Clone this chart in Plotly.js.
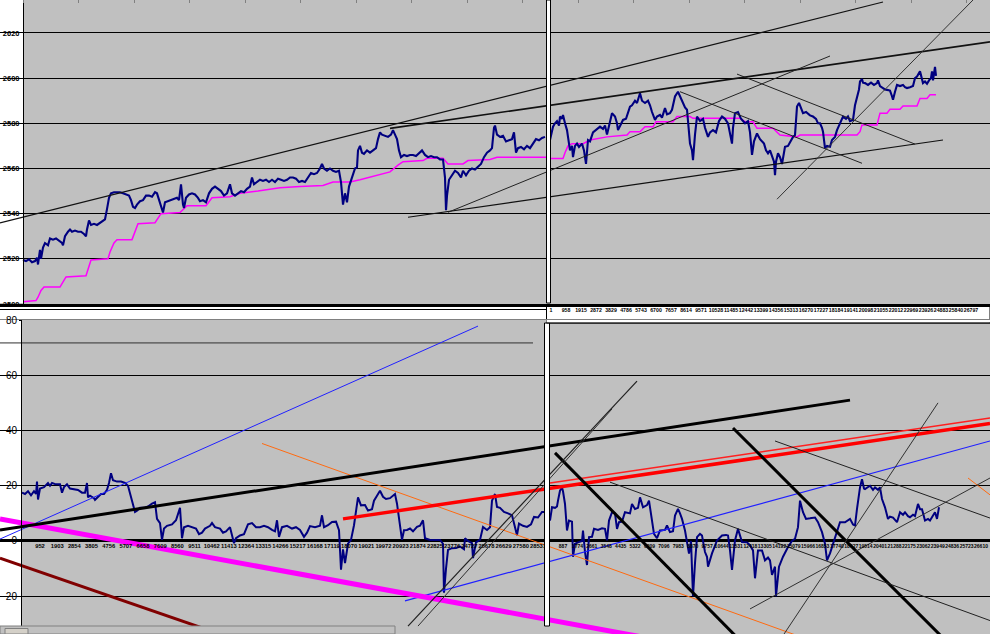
<!DOCTYPE html>
<html><head><meta charset="utf-8">
<script src="https://cdn.plot.ly/plotly-3.0.1.min.js"></script>
<style>html,body{margin:0;padding:0;background:#fff;overflow:hidden}</style>
</head><body>
<div id="chart" style="width:990px;height:634px"></div>
<script>
// ---------------- DATA ----------------
// Upper chart (price) – left window: [bar, price]
const priceLeft = [[23,2519.5],[26,2519],[29,2519.8],[32,2518.5],[35,2519],[37,2520.5],[38,2517.5],[39,2521],[40,2524],[41,2520],[43,2525],[45,2527],[48,2526],[50,2529],[53,2528.5],[56,2529],[59,2528],[62,2527],[63,2526],[65,2530],[68,2532],[70,2533],[72,2532],[75,2532.5],[78,2532],[81,2532],[84,2531],[86,2530],[87,2533],[89,2537],[91,2535],[94,2535.5],[97,2535],[100,2536],[103,2537],[105,2537.5],[107,2542],[109,2547],[111,2549],[114,2549.5],[117,2549.5],[120,2549.5],[123,2549],[126,2548.5],[129,2548],[131,2546],[133,2543],[135,2542.5],[137,2544],[140,2545.5],[143,2546],[146,2548],[149,2548],[152,2547.5],[155,2549.5],[157,2549],[159,2546],[161,2544],[163,2540.5],[165,2545],[168,2545.5],[171,2546],[174,2546.5],[177,2547],[179,2546],[181,2553],[183,2544],[184,2542.5],[186,2547],[189,2548.5],[192,2549],[195,2548.5],[198,2547],[200,2545.5],[203,2546],[206,2545],[209,2549],[212,2551],[215,2552],[218,2551],[221,2550],[224,2548],[227,2549],[230,2553],[232,2549],[235,2548],[238,2549],[241,2550],[244,2549.5],[247,2551],[250,2552],[252,2556],[254,2553],[257,2554],[260,2555],[263,2554.5],[266,2555],[269,2554],[272,2555],[275,2554],[278,2555.5],[281,2555],[284,2554.5],[287,2555],[290,2556],[293,2556],[296,2555.5],[299,2554],[302,2554.5],[305,2554],[308,2556],[311,2558],[314,2557.5],[317,2558],[320,2560],[322,2562],[324,2560],[327,2559],[330,2560],[333,2559],[336,2558.5],[339,2559],[341,2554],[342,2546],[343,2544],[345,2549],[347,2545],[349,2552],[351,2555],[353,2557],[355,2560],[357,2560.5],[358,2568],[360,2570],[362,2567],[364,2566.5],[367,2568],[370,2567],[373,2568],[376,2569],[378,2573],[380,2576],[382,2575],[385,2574.5],[388,2574],[391,2575],[393,2577],[395,2575],[397,2573],[399,2568],[401,2565],[404,2566],[407,2565.5],[410,2566],[413,2566],[416,2565.5],[419,2567],[422,2568],[425,2566],[428,2565],[431,2565.5],[434,2565],[437,2565],[440,2564],[443,2564],[445,2556],[446,2541.5],[447,2548],[449,2555],[452,2557],[455,2559],[458,2558],[461,2556],[463,2559],[466,2557],[469,2559],[472,2560],[475,2559.5],[478,2561],[481,2562],[484,2565],[487,2567],[490,2568],[492,2569],[494,2578],[495,2579],[497,2575],[500,2574],[503,2574.5],[506,2572],[509,2572.5],[512,2573],[514,2576],[516,2567],[518,2569],[521,2569.5],[524,2568.5],[527,2570],[530,2569],[533,2571],[536,2573],[539,2572.5],[542,2573.5],[545,2574]];
const avgLeft = [[23,2501],[36,2501.5],[38,2503],[41,2506],[44,2507.5],[60,2507.5],[62,2509],[66,2512],[86,2512.5],[88,2515],[91,2519.5],[108,2520],[110,2523],[114,2527],[117,2528.5],[132,2528.5],[135,2532],[138,2535.5],[155,2536],[158,2538],[161,2540],[180,2540.5],[183,2542],[187,2543.5],[206,2543.5],[210,2546],[212,2547],[230,2547.5],[240,2549],[258,2550],[280,2551.5],[300,2552],[323,2552.5],[333,2554],[350,2554],[360,2555],[377,2557],[390,2558.5],[398,2561.5],[403,2563],[423,2563.5],[427,2564.5],[443,2564.5],[448,2562],[463,2562],[468,2563.5],[490,2564],[497,2565],[546,2565]];
// Upper chart – right window
const priceRight = [[550,2572.6],[552,2576],[553,2578.5],[555,2580],[557,2581],[559,2579],[560,2583],[562,2582],[563,2583.7],[565,2580],[567,2577],[568,2574],[570,2568],[572,2570],[573,2565],[575,2570],[577,2571],[579,2569.5],[582,2571],[584,2568],[586,2562],[588,2572.6],[590,2572],[593,2576],[596,2577],[600,2578.5],[603,2577.5],[605,2579],[607,2575],[609,2579],[612,2584.5],[615,2583],[617,2580],[618,2577],[620,2579],[623,2581.5],[626,2582],[628,2585],[630,2587.4],[632,2588],[635,2590],[637,2589],[640,2593.3],[642,2590],[645,2589],[648,2590],[650,2588],[652,2585],[655,2581.5],[657,2583],[660,2583.7],[662,2582.5],[665,2586.7],[667,2584],[670,2584.5],[672,2586],[675,2591.9],[678,2594],[680,2592],[682,2590],[685,2587],[687,2586],[688,2580],[690,2571],[692,2568],[693,2563.7],[695,2575],[697,2583],[700,2581],[703,2582],[705,2578],[708,2574],[710,2576],[713,2577],[716,2576],[719,2581],[722,2583],[725,2582],[728,2580],[730,2576],[732,2571],[733,2578],[735,2584.5],[738,2585],[741,2582],[745,2580],[748,2581],[750,2576],[752,2566],[754,2572],[757,2575.5],[760,2573],[764,2571],[766,2568],[768,2566.7],[770,2568],[772,2565],[774,2563],[775,2557],[776,2563],[778,2566.7],[780,2565],[782,2562],[785,2569.6],[788,2570],[791,2572.6],[793,2574],[795,2574.8],[796,2580],[797,2587.4],[799,2589],[801,2587],[803,2584.5],[806,2585],[810,2583.5],[813,2583],[816,2582],[818,2580],[820,2580],[822,2578],[823,2576.3],[825,2569],[827,2570],[830,2569.6],[832,2572.6],[835,2574],[837,2577],[840,2580],[843,2583],[846,2582],[848,2583],[850,2581],[853,2581.5],[855,2588],[857,2591.9],[859,2595],[860,2598.5],[862,2599.6],[863,2598],[865,2597.8],[868,2597],[871,2598],[874,2597],[877,2597.8],[878,2599],[880,2596.5],[883,2595.6],[885,2595],[887,2594.8],[890,2594.5],[892,2592],[893,2590.4],[895,2594],[897,2597],[900,2596.5],[903,2597],[905,2596],[907,2595.6],[910,2596],[913,2596.5],[915,2600],[917,2600.7],[920,2603],[922,2600],[923,2597.8],[925,2598.5],[927,2597.5],[929,2599],[931,2600],[932,2603],[933,2599],[935,2605],[936,2601]];
const avgRight = [[550,2564.4],[563,2564.4],[565,2567],[568,2570],[572,2571],[583,2571],[590,2572.6],[600,2573.5],[607,2574],[627,2574.8],[630,2576.3],[640,2576.3],[645,2578.5],[653,2578.5],[656,2580.7],[673,2580.7],[677,2583],[690,2583],[693,2582.2],[740,2582.2],[745,2580.7],[753,2580.7],[757,2577.8],[773,2577.8],[780,2574.8],[797,2574],[800,2574.8],[857,2574.8],[860,2576.3],[862,2579.3],[877,2579.3],[880,2584.5],[887,2584.5],[890,2586.2],[900,2586.2],[903,2587.7],[917,2587.7],[920,2591],[927,2591],[930,2592.6],[936,2592.6]];
// Lower chart (oscillator)
const oscLeft = [[22,17.5],[25,17],[28,18],[31,16.5],[34,18],[36,17],[37,21.5],[38,15],[40,19],[44,19.5],[48,21],[50,20],[52,21],[56,20.5],[60,20.5],[62,17.5],[64,19.5],[67,20.5],[70,19],[74,18.8],[78,18.5],[82,17.5],[85,17.5],[87,21],[88,15.8],[90,16.4],[94,15.5],[95,14.9],[98,16],[101,17],[104,17],[107,18.5],[109,21],[111,24.5],[113,22],[117,21.5],[121,21.5],[125,21],[128,20],[131,16],[133,13],[135,10.5],[137,11],[140,12],[144,12],[148,12.5],[152,13.5],[155,14],[157,8],[160,6.5],[162,0.4],[164,4.5],[167,5.5],[172,6],[176,7.5],[180,12],[182,1],[184,5],[188,5.5],[192,5],[196,4.5],[199,2.5],[202,3],[205,4.5],[210,5.5],[212,6.5],[215,5],[220,4.5],[223,3],[226,3.5],[230,5],[234,-0.8],[236,1],[240,2],[244,2.5],[248,6],[252,6.5],[256,5],[260,5],[264,5.5],[268,5],[272,4],[275,3.5],[277,7.5],[279,1.5],[282,5],[287,5.5],[292,4.5],[296,5],[300,4],[302,2.7],[304,1.5],[307,3],[310,5.4],[315,5],[320,5.5],[322,9.3],[324,5],[328,5.7],[332,6.9],[336,7],[339,3.9],[341,-10.4],[343,-3],[345,-8],[348,-1],[351,0.4],[354,5.7],[358,15.8],[361,12.9],[365,13],[368,11],[372,11.5],[374,14.6],[377,16.4],[380,18.2],[383,16],[386,15.2],[390,15.5],[393,16.5],[395,17],[397,13.5],[399,8.7],[402,0.4],[404,3.9],[407,4],[410,4.5],[413,3.5],[417,5.1],[420,5.5],[423,7.5],[425,1],[430,0.4],[435,0.5],[440,0.4],[443,-1],[444,-18.7],[446,-10],[448,-3.2],[452,-2.6],[456,-2.5],[460,-2],[464,-3],[465,1],[468,0],[472,-0.8],[473,-6.2],[476,-0.5],[480,0.4],[483,5.1],[487,4],[490,5],[492,14.6],[495,17],[497,12.3],[500,12],[504,10.5],[508,10],[512,9.3],[517,2.1],[519,6.3],[523,5.5],[527,5.1],[531,6],[534,8.7],[538,8.5],[542,10.5],[544,10.5]];
const oscRight = [[550,7.4],[552,12.2],[555,12],[557,12.5],[558,14.6],[560,18.2],[562,19.4],[563,18],[565,13.4],[567,3.8],[569,7.4],[572,7],[573,-5.7],[575,-1],[578,-0.5],[582,0],[583,3.8],[585,-4],[587,-8.7],[589,1.4],[592,1.5],[594,4.4],[598,4],[602,4.6],[605,4.4],[607,0.2],[609,7.4],[612,10.4],[615,10],[617,4.4],[619,6.8],[622,7],[625,10.4],[630,10],[632,13.4],[635,11.6],[638,12],[640,15.8],[643,12.2],[647,13],[649,14.6],[652,7.4],[654,2.6],[657,1],[660,3.8],[665,4],[667,5.6],[670,3.2],[673,3.5],[675,9.2],[678,11.6],[680,10],[682,8],[685,3.8],[689,-4.6],[691,0],[693,-20],[695,-8],[697,1.4],[700,2.6],[702,2],[705,-4],[707,-5.7],[708,-9.3],[712,-4.5],[717,0.2],[720,1.5],[722,2],[726,2.2],[728,2],[730,-3.4],[732,-10.5],[735,0.2],[738,4.4],[742,-0.4],[747,-0.5],[750,-1.5],[753,-3.4],[755,-13.5],[758,-3.4],[762,-3.4],[765,-7],[768,-6],[770,-7],[772,-12.3],[775,-9.3],[776,-20],[779,-9.3],[783,-5.7],[788,-2.2],[792,0],[795,0.8],[798,5],[800,14.6],[803,10.4],[806,8],[810,8.2],[815,8.5],[818,6.8],[822,3.2],[825,-1],[827,-7],[830,-4.5],[833,-1],[835,1.4],[838,4],[840,6.8],[845,6.8],[850,8],[853,6],[855,5.6],[857,11.6],[859,17],[860,19.4],[862,22.4],[864,19],[865,18.8],[868,19.5],[870,20],[873,18.5],[875,19.4],[878,18.5],[880,19.4],[882,15.2],[885,12.2],[888,8],[890,8.8],[893,8.5],[897,6.8],[900,10.4],[903,9.5],[905,10.4],[908,9],[910,8.6],[913,9.5],[915,9],[918,13.4],[920,11.5],[922,11.5],[925,7.4],[928,8],[930,7.4],[933,9],[935,10.4],[937,8],[939,12.2]];

// Trend lines: [x0, x1] and [y0, y1]
const upperTrendX = [[0,883],[390,990],[408,943],[448,830],[680,862],[737,915],[777,973]];
const upperTrendY = [[2535.9,2633.7],[2577.8,2616.1],[2538.4,2572.6],[2540.6,2609.8],[2594.0,2562.3],[2601.8,2570.8],[2546.4,2634.6]];
const lowerTrendX = [[0,533],[0,478],[0,300],[262,800],[968,990],[405,990],[0,640],[343,990],[550,990],[0,850],[555,740],[733,945],[610,990],[775,990],[408,637],[418,612],[784,938],[750,990]];
const lowerTrendY = [[71.7,71.7],[0.7,77.8],[-6.2,-43.7],[35.3,-34.6],[22.8,16.7],[-21.7,36.2],[8.0,-34.6],[8.0,42.5],[21.0,44.5],[4.0,51.0],[31.9,-36],[40.9,-35.8],[21.3,-28.8],[36.2,8.3],[-30.8,57.9],[-30.8,47.8],[-33.7,50.0],[-24.6,22.8]];

// Tick labels
const upperYTicks = [2500,2520,2540,2560,2580,2600,2620];
const lowerYTicks = [-20,0,20,40,60,80];
const topRightTicks = ['1','958','1915','2872','3829','4786','5743','6700','7657','8614','9571','10528','11485','12442','13399','14356','15313','16270','17227','18184','19141','20098','21055','22012','22969','23926','24883','25840','26797','27754'];
const bottomLeftTicks = ['952','1903','2854','3805','4756','5707','6658','7609','8560','9511','10462','11413','12364','13315','14266','15217','16168','17119','18070','19021','19972','20923','21874','22825','23776','24727','25678','26629','27580','28531'];
const bottomRightTicks = ['887','1774','2661','3548','4435','5322','6209','7096','7983','8870','9757','10644','11531','12418','13305','14192','15079','15966','16853','17740','18627','19514','20401','21288','22175','23062','23949','24836','25723','26610'];

// ---------------- STYLES ----------------
const upperTrendStyle = [
  {color:'#111',width:1.2},{color:'#111',width:1.7},{color:'#111',width:1.2},{color:'#222',width:1},
  {color:'#222',width:1},{color:'#222',width:1},{color:'#333',width:1}];
const lowerTrendStyle = [
  {color:'#303030',width:1},{color:'#2020ff',width:1},{color:'#800000',width:3},{color:'#ff6a10',width:1},
  {color:'#ff6a10',width:1},{color:'#2020ff',width:1.2},{color:'#ff00ff',width:5},{color:'#ff0000',width:3.5},
  {color:'#ff2020',width:1.5},{color:'#000',width:3},{color:'#000',width:3},{color:'#000',width:3},
  {color:'#202020',width:1},{color:'#202020',width:1},{color:'#202020',width:1.2},{color:'#303030',width:1},
  {color:'#303030',width:1},{color:'#303030',width:1}];

const W = 990, H = 634;
const xs = a => a.map(p => p[0]);
const ys = a => a.map(p => p[1]);
const traces = [];
function series(arr, xa, ya, color, width){
  traces.push({x:xs(arr), y:ys(arr), xaxis:xa, yaxis:ya, type:'scatter', mode:'lines',
    line:{color:color, width:width}, hoverinfo:'skip', showlegend:false});
}
series(avgLeft,'x','y','#ff00ff',1.5);
series(avgRight,'x','y','#ff00ff',1.5);
series(priceLeft,'x','y','#000080',2.1);
series(priceRight,'x','y','#000080',2.1);
series(oscLeft,'x3','y3','#000080',2);
series(oscRight,'x3','y3','#000080',2);
upperTrendX.forEach((xx,i)=>traces.push({x:xx, y:upperTrendY[i], xaxis:'x', yaxis:'y', mode:'lines',
  line:upperTrendStyle[i], hoverinfo:'skip', showlegend:false}));
lowerTrendX.forEach((xx,i)=>traces.push({x:xx, y:lowerTrendY[i], xaxis:'x3', yaxis:'y3', mode:'lines',
  line:lowerTrendStyle[i], hoverinfo:'skip', showlegend:false}));

// tick label positions along the bar axis (first/last label location, even spacing)
const spread = (n, a, b) => Array.from({length:n}, (_, i) => a + (b - a) * i / (n - 1));
const topRightPos = spread(topRightTicks.length, 551, 986);
const bottomLeftPos = spread(bottomLeftTicks.length, 40, 538);
const bottomRightPos = spread(bottomRightTicks.length, 563, 981);
// invisible anchors so the label-only axes are rendered
traces.push({x:[0], y:[2500], xaxis:'x2', yaxis:'y', mode:'markers', marker:{opacity:0}, hoverinfo:'skip', showlegend:false});
traces.push({x:[0], y:[2500], xaxis:'x5', yaxis:'y', mode:'markers', marker:{opacity:0}, hoverinfo:'skip', showlegend:false});
traces.push({x:[0], y:[0], xaxis:'x4', yaxis:'y3', mode:'markers', marker:{opacity:0}, hoverinfo:'skip', showlegend:false});
traces.push({x:[0], y:[0], xaxis:'x6', yaxis:'y3', mode:'markers', marker:{opacity:0}, hoverinfo:'skip', showlegend:false});

function rect(x0,y0,x1,y1,fill,line,layer){
  return {type:'rect', xref:'paper', yref:'paper', x0:x0/W, x1:x1/W, y0:1-y1/H, y1:1-y0/H,
    fillcolor:fill, line: line ? {color:line, width:1} : {width:0}, layer: layer || 'above'};
}
function hline(x0,x1,y,color,w){
  return {type:'line', xref:'paper', yref:'paper', x0:x0/W, x1:x1/W, y0:1-y/H, y1:1-y/H, line:{color:color,width:w}};
}
const shapes = [
  rect(0,0,23,303,'#ffffff',null,'between'),
  rect(0,320,21,634,'#ffffff',null,'between'),
  rect(546.5,0,550.5,303,'#ffffff','#000000'),
  rect(544.5,323,549.5,626,'#ffffff','#000000'),
  hline(0,546,309.5,'#000000',1),
  rect(546.5,305.5,990,323,'#ffffff','#000000','below'),
  rect(546.5,320,990,322.5,'#ffffff',null),
  hline(546.5,990,323,'#000000',1),
  rect(0,626,395,634,'#c0c0c0','#808080'),
  rect(5,628.5,28,634,'#d4d0c8','#808080')
];

const small = {family:'Liberation Sans, Arial, sans-serif', color:'#000', weight:'bold'};
const labelAxis = (over, pos, vals, text, size) => ({overlaying:over, anchor:'free', position:pos,
  range:[0,990], tickmode:'array', tickvals:vals, ticktext:text, ticks:'', showline:false,
  showgrid:false, zeroline:false, tickangle:0, tickfont:Object.assign({size:size}, small), fixedrange:true});
const layout = {
  width:W, height:H, margin:{l:0,r:0,t:0,b:0,pad:0},
  paper_bgcolor:'#ffffff', plot_bgcolor:'#c0c0c0', showlegend:false,
  xaxis:{domain:[0,1], range:[0,990], anchor:'y', showline:true, linecolor:'#000', linewidth:3,
    showgrid:false, zeroline:false, ticks:'', showticklabels:false, fixedrange:true},
  yaxis:{domain:[330/634,1], range:[2500,2634.6], anchor:'free', position:23/W, showline:true,
    linecolor:'#000', linewidth:1, ticks:'outside', ticklen:2, tickcolor:'#000',
    tickmode:'array', tickvals:upperYTicks, showgrid:true, gridcolor:'#000', gridwidth:1,
    zeroline:false, tickfont:Object.assign({size:7.5}, small), fixedrange:true},
  xaxis2:{overlaying:'x', side:'top', anchor:'y', range:[0,990], showline:true, linecolor:'#808080',
    ticks:'inside', ticklen:3, tickcolor:'#808080', tickmode:'linear', tick0:23, dtick:55.5,
    showticklabels:false, showgrid:false, zeroline:false, fixedrange:true},
  xaxis5: labelAxis('x', (H-306)/H, topRightPos, topRightTicks, 5.2),
  xaxis3:{domain:[0,1], range:[0,990], anchor:'y3', showline:true, mirror:true, linecolor:'#808080',
    linewidth:1, showgrid:false, zeroline:false, ticks:'', showticklabels:false, fixedrange:true},
  yaxis3:{domain:[0,314/634], range:[-33.67,80], anchor:'free', position:21/W, showline:true,
    linecolor:'#000', linewidth:1, ticks:'outside', ticklen:2, tickcolor:'#000', tickmode:'array',
    tickvals:lowerYTicks, showgrid:true, gridcolor:'#000', gridwidth:1, zeroline:true,
    zerolinecolor:'#000', zerolinewidth:3,
    tickfont:{family:'Liberation Sans, Arial, sans-serif', size:10, color:'#000'}, fixedrange:true},
  xaxis4: labelAxis('x3', (H-541.5)/H, bottomLeftPos, bottomLeftTicks, 5.8),
  xaxis6: labelAxis('x3', (H-541.5)/H, bottomRightPos, bottomRightTicks, 5),
  shapes:shapes
};
Plotly.newPlot('chart', traces, layout, {staticPlot:true, displayModeBar:false});
</script>
</body></html>
